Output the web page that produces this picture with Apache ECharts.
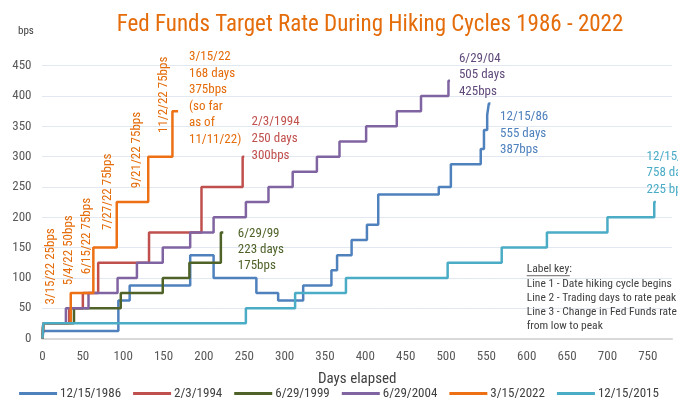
<!DOCTYPE html>
<html>
<head>
<meta charset="utf-8">
<script src="https://cdn.jsdelivr.net/npm/echarts@6/dist/echarts.min.js"></script>
<style>
html, body { margin: 0; padding: 0; background: #fff; }
#main { width: 678px; height: 407px; }
</style>
</head>
<body>
<div id="main"></div>
<script>
// cycles, in legend order
var cycleNames = ['12/15/1986', '2/3/1994', '6/29/1999', '6/29/2004', '3/15/2022', '12/15/2015'];

// trading days since the cycle start / rise in target rate (bps)
var days1986 = [0, 1, 94, 108, 183, 212, 265, 292, 323, 358, 365, 383, 402, 416, 491, 506, 543, 547, 551, 553, 555];
var bps1986  = [0, 12.5, 62.5, 87.5, 137.5, 100, 75, 62.5, 87.5, 112.5, 137.5, 162.5, 187.5, 237.5, 250, 287.5, 312.5, 343.75, 368.75, 387.5, 387.5];

var days1994 = [0, 1, 33, 50, 69, 132, 197, 248, 250];
var bps1994  = [0, 25, 50, 75, 125, 175, 250, 300, 300];

var days1999 = [0, 1, 39, 97, 149, 182, 221, 224];
var bps1999  = [0, 25, 50, 75, 100, 125, 175, 175];

var days2004 = [0, 1, 29, 57, 93, 117, 149, 183, 212, 252, 280, 310, 340, 368, 401, 439, 469, 503, 505];
var bps2004  = [0, 25, 50, 75, 100, 125, 150, 175, 200, 225, 250, 275, 300, 325, 350, 375, 400, 425, 425];

var days2022 = [0, 1, 35, 63, 92, 131, 161, 168];
var bps2022  = [0, 25, 75, 150, 225, 300, 375, 375];

var days2015 = [0, 1, 252, 313, 376, 502, 569, 625, 700, 758, 760];
var bps2015  = [0, 25, 50, 75, 100, 125, 150, 175, 200, 225, 225];

var allDays = [days1986, days1994, days1999, days2004, days2022, days2015];
var allBps  = [bps1986, bps1994, bps1999, bps2004, bps2022, bps2015];

// 2022 hike notes (rotated) and cycle summary notes
var hikeNotes = ['3/15/22 25bps', '5/4/22 50bps', '6/15/22 75bps', '7/27/22 75bps', '9/21/22 75bps', '11/2/22 75bps'];
var cycleNotes = [
    '3/15/22\n168 days\n375bps\n(so far\nas of\n11/11/22)',
    '2/3/1994\n250 days\n300bps',
    '6/29/99\n223 days\n175bps',
    '6/29/04\n505 days\n425bps',
    '12/15/86\n555 days\n387bps',
    '12/15/15\n758 days\n225 bps'
];
var keyLines = ['Line 1 - Date hiking cycle begins', 'Line 2 - Trading days to rate peak', 'Line 3 - Change in Fed Funds rate', 'from low to peak'];

var colors = ['#4F81BD', '#C0504D', '#4F6228', '#8064A2', '#ED7014', '#4BACC6'];
var FONT = '"Liberation Sans Narrow", "Roboto Condensed", "Liberation Sans", sans-serif';

var main = document.getElementById('main');
var myChart = echarts.init(main, null, {renderer: 'canvas'});

var series = cycleNames.map(function (name, i) {
    return {
        name: name,
        type: 'line',
        step: 'end',
        symbol: 'none',
        color: colors[i],
        lineStyle: {width: 2.5, color: colors[i]},
        data: allDays[i].map(function (d, k) { return [d, allBps[i][k]]; })
    };
});

var option = {
    animation: false,
    backgroundColor: '#fff',
    title: {
        text: 'Fed Funds Target Rate During Hiking Cycles 1986 - 2022',
        left: 365, top: 9, textAlign: 'center',
        textStyle: {fontFamily: FONT, fontSize: 23, fontWeight: 'normal', color: '#E46C0A'}
    },
    legend: {
        data: cycleNames,
        bottom: 2, left: 'center',
        icon: 'rect', itemWidth: 38, itemHeight: 3, itemGap: 12,
        textStyle: {fontFamily: FONT, fontSize: 13, color: '#404040', padding: [0, 0, 0, -2]}
    },
    grid: {left: 42.5, right: 6, top: 65.7, bottom: 68.5, containLabel: false},
    xAxis: {
        type: 'value', min: 0, max: 780, interval: 50,
        name: 'Days elapsed', nameLocation: 'middle', nameGap: 33,
        nameTextStyle: {fontFamily: FONT, fontSize: 15, color: '#404040'},
        axisLine: {lineStyle: {color: '#d9d9d9', width: 2}},
        axisTick: {show: false},
        splitLine: {show: false},
        axisLabel: {
            margin: 12, fontFamily: FONT, fontSize: 13, color: '#595959',
            formatter: function (v) { return v % 50 === 0 ? v : ''; }
        }
    },
    yAxis: {
        type: 'value', min: 0, max: 450, interval: 50,
        axisLine: {show: false},
        axisTick: {show: false},
        splitLine: {lineStyle: {type: 'dotted', color: '#c3d0e4', width: 1}},
        axisLabel: {margin: 11, fontFamily: FONT, fontSize: 13, color: '#595959'}
    },
    series: series
};
myChart.setOption(option);

// place the notes through the chart's own scales
var hikeAt = [[10, 56], [32, 88], [55, 106], [81, 179], [117, 248], [150, 339]];
var cycleAt = [[181.5, 478], [259, 372], [242, 186], [516, 476], [567, 379], [748.5, 314]];
var cycleColor = ['#E46C0A', '#C0504D', '#4F6228', '#604A7B', '#4F81BD', '#4BACC6'];
var cycleLH = [16.5, 17, 16, 16.7, 16.5, 16.7];

var graphics = [
    {type: 'text', left: 18, top: 26, style: {text: 'bps', font: '11px ' + FONT, fill: '#404040'}}
];
hikeNotes.forEach(function (t, i) {
    var p = myChart.convertToPixel({gridIndex: 0}, hikeAt[i]);
    graphics.push({
        type: 'text', x: p[0], y: p[1], rotation: Math.PI / 2,
        style: {text: t, font: '13px ' + FONT, fill: '#E46C0A', align: 'left', verticalAlign: 'middle'}
    });
});
cycleNotes.forEach(function (t, i) {
    var p = myChart.convertToPixel({gridIndex: 0}, cycleAt[i]);
    graphics.push({
        type: 'text', x: p[0], y: p[1],
        style: {text: t, font: '13px ' + FONT, fill: cycleColor[i], lineHeight: cycleLH[i], align: 'left', verticalAlign: 'top'}
    });
});
var k0 = myChart.convertToPixel({gridIndex: 0}, [600, 125]);
graphics.push({
    type: 'text', x: k0[0], y: k0[1],
    style: {text: 'Label key:', font: '11.5px ' + FONT, fill: '#404040', align: 'left', verticalAlign: 'top'}
});
graphics.push({
    type: 'line', shape: {x1: k0[0], y1: k0[1] + 13, x2: k0[0] + 43, y2: k0[1] + 13},
    style: {stroke: '#404040', lineWidth: 0.8}
});
graphics.push({
    type: 'text', x: k0[0], y: k0[1] + 14,
    style: {text: keyLines.join('\n'), font: '11.5px ' + FONT, fill: '#404040', lineHeight: 14, align: 'left', verticalAlign: 'top'}
});
myChart.setOption({graphic: graphics});

window.onresize = function () {
    myChart.resize();
};
</script>
</body>
</html>
